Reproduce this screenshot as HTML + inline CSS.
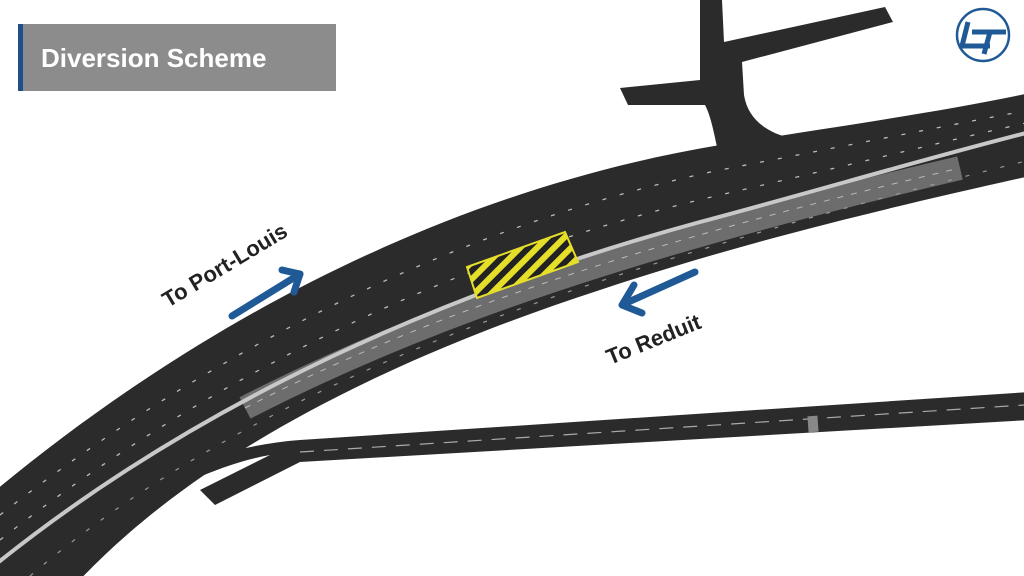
<!DOCTYPE html>
<html><head><style>
html,body{margin:0;padding:0;background:#fff;}
svg{display:block}
text{font-family:"Liberation Sans",sans-serif;font-weight:bold;}
</style></head><body>
<svg width="1024" height="576" viewBox="0 0 1024 576" xmlns="http://www.w3.org/2000/svg">
<defs>
<pattern id="hatch" width="12" height="12" patternUnits="userSpaceOnUse" patternTransform="rotate(45)">
<rect width="12" height="12" fill="#222"/><rect width="6" height="12" fill="#e5df2a"/>
</pattern>
</defs>
<rect width="1024" height="576" fill="#fff"/>
<!-- north branch -->
<path d="M700,0 L722,0 L724,42 L885,7 L893,22 L742,62 L744,95 C748,120 768,135 800,140 L720,160 C715,140 712,118 705,105 L628,105 L620,88 L700,80 Z" fill="#2b2b2b"/>
<!-- main road -->
<path d="M-10,495 C200,320 450,190 720,145 C850,125 950,110 1030,93 L1030,176 C900,205 750,240 600,290 C400,355 200,450 75,585 L-10,585 Z" fill="#2b2b2b"/>
<!-- lower road -->
<path d="M1030,392 L1030,420 L300,462 L215,505 L200,490 L270,455 C230,462 190,480 150,500 L120,500 C170,470 230,445 300,440 Z" fill="#2b2b2b"/>
<path d="M300,452 L1024,405" stroke="#aaa" stroke-width="1.2" stroke-dasharray="14,10" fill="none"/>
<rect x="808" y="416" width="10" height="16" fill="#888" transform="rotate(-4 813 424)"/>
<!-- gray closed strip -->
<path d="M245,408 C400,328 600,252 960,168" stroke="#6d6d6d" stroke-width="24" fill="none"/>
<path d="M245,408 C400,328 600,252 960,168" stroke="#bbb" stroke-width="1" stroke-dasharray="6,8" fill="none"/>
<!-- median -->
<path d="M-5,565 C200,400 450,290 700,222 C820,190 920,160 1030,132" stroke="#c8c8c8" stroke-width="4" fill="none"/>
<!-- lane dashes -->
<path d="M0,515 C210,350 460,225 720,170 C850,145 950,125 1030,110" stroke="#bbb" stroke-width="1.3" stroke-dasharray="4,14" fill="none"/>
<path d="M0,540 C210,375 460,255 720,195 C850,165 950,140 1030,122" stroke="#bbb" stroke-width="1.3" stroke-dasharray="4,14" fill="none"/>
<path d="M30,576 C200,430 430,330 700,250 C850,205 950,180 1030,160" stroke="#999" stroke-width="1.2" stroke-dasharray="4,14" fill="none"/>
<!-- hatched box -->
<polygon points="467,267 565,232 578,262 477,298" fill="url(#hatch)" stroke="#e5df2a" stroke-width="2"/>
<!-- arrows -->
<g stroke="#1f5a96" stroke-width="7" fill="none" stroke-linecap="round" stroke-linejoin="round">
<path d="M232,316 L300,274"/><path d="M282,270 L300,274 L294,292"/>
<path d="M695,272 L624,304"/><path d="M634,285 L622,305 L642,313"/>
</g>
<text x="0" y="0" font-size="22" fill="#222" transform="translate(168,308) rotate(-31)">To Port-Louis</text>
<text x="0" y="0" font-size="22" fill="#222" transform="translate(610,365) rotate(-22)">To Reduit</text>
<!-- title -->
<rect x="18" y="24" width="318" height="67" fill="#8c8c8c"/>
<rect x="18" y="24" width="5" height="67" fill="#1f4f8a"/>
<text x="41" y="67" font-size="26" fill="#fff">Diversion Scheme</text>
<!-- logo -->
<circle cx="983" cy="35" r="26" fill="none" stroke="#1f5a96" stroke-width="2.5"/>
<path d="M968,22 L962,46 L990,46 M972,32 L1006,32 M990,32 L984,54" stroke="#1f5a96" stroke-width="5" fill="none"/>
</svg>
</body></html>
